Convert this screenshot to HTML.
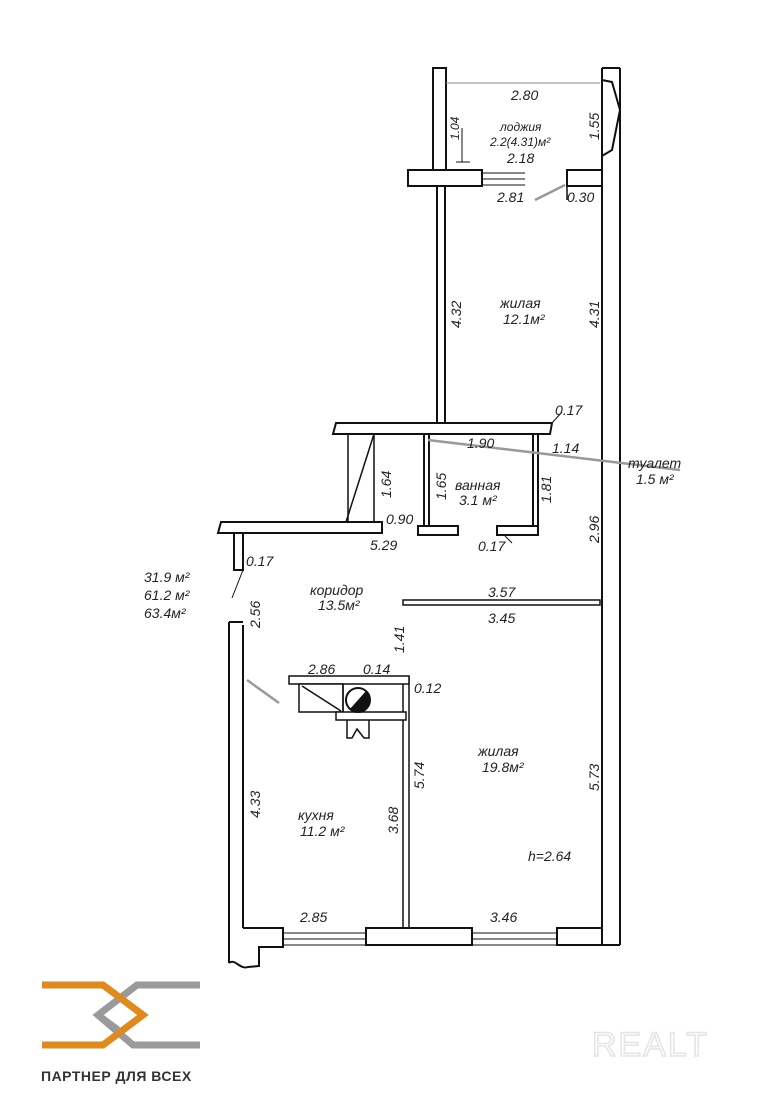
<!DOCTYPE html>
<html><head><meta charset="utf-8"><style>
html,body{margin:0;padding:0;background:#fff;}
svg{display:block;}
text{font-family:"Liberation Sans",sans-serif;font-style:italic;fill:#222;}
</style></head><body>
<svg width="781" height="1100" viewBox="0 0 781 1100" xmlns="http://www.w3.org/2000/svg">
<g fill="#fff" stroke="#111" stroke-width="2">
<rect x="433" y="68" width="13" height="102"/>
<line x1="437" y1="186" x2="437" y2="424"/><line x1="445" y1="186" x2="445" y2="424"/>
<line x1="602" y1="68" x2="602" y2="932"/>
<line x1="620" y1="68" x2="620" y2="945"/>
<line x1="602" y1="68" x2="620" y2="68"/>
<polyline fill="none" points="602,80 612,82 620,110 612,150 602,156"/>
<rect x="408" y="170" width="74" height="16"/>
<line x1="482" y1="173" x2="525" y2="173" stroke-width="1"/><line x1="482" y1="179" x2="525" y2="179" stroke-width="1"/><line x1="482" y1="185" x2="525" y2="185" stroke-width="1"/>
<rect x="567" y="170" width="35" height="16"/>
<line x1="567" y1="186" x2="567" y2="200" stroke-width="1.5"/>
<polygon points="336,423 552,423 550,434 333,434"/>
<line x1="424" y1="434" x2="424" y2="526"/><line x1="429" y1="434" x2="429" y2="526"/>
<line x1="533" y1="434" x2="533" y2="526"/><line x1="538" y1="434" x2="538" y2="526"/>
<rect x="418" y="526" width="40" height="9"/>
<rect x="497" y="526" width="41" height="9"/>
<polygon points="221,522 382,522 382,533 218,533"/>
<line x1="348" y1="434" x2="348" y2="522" stroke-width="1.5"/>
<line x1="374" y1="434" x2="374" y2="522" stroke-width="1.5"/>
<line x1="374" y1="434" x2="346" y2="522" stroke-width="1.5"/>
<rect x="234" y="533" width="9" height="37"/>
<rect x="403" y="600" width="197" height="5" stroke-width="1.5"/>
<line x1="229" y1="622" x2="229" y2="963"/>
<line x1="243" y1="625" x2="243" y2="928"/>
<line x1="229" y1="622" x2="243" y2="622"/>
<path d="M229,963 C235,958 240,970 248,967 L259,966 L259,947 L283,947 L283,928 L243,928" fill="none"/>
<rect x="366" y="928" width="106" height="17"/>
<rect x="557" y="928" width="45" height="17"/>
<line x1="283" y1="933" x2="366" y2="933" stroke-width="1"/><line x1="283" y1="939" x2="366" y2="939" stroke-width="1"/><line x1="283" y1="945" x2="366" y2="945" stroke-width="1"/>
<line x1="472" y1="933" x2="557" y2="933" stroke-width="1"/><line x1="472" y1="939" x2="557" y2="939" stroke-width="1"/><line x1="472" y1="945" x2="557" y2="945" stroke-width="1"/>
<line x1="602" y1="945" x2="620" y2="945"/>
<line x1="403" y1="676" x2="403" y2="928" stroke-width="1.5"/>
<line x1="409" y1="676" x2="409" y2="928" stroke-width="1.5"/>
<rect x="289" y="676" width="120" height="8" stroke-width="1.5"/>
<rect x="299" y="684" width="44" height="28" stroke-width="1.5"/>
<line x1="302" y1="686" x2="341" y2="711" stroke-width="1.5"/>
<rect x="336" y="712" width="70" height="8" stroke-width="1.5"/>
<line x1="343" y1="684" x2="343" y2="712" stroke-width="1.5"/>
<polyline fill="none" stroke-width="1.5" points="347,720 347,738 352,738 357,729 364,738 369,738 369,720"/>
</g>
<circle cx="358" cy="700" r="12" fill="#fff" stroke="#111" stroke-width="2"/>
<path d="M366,691 A12,12 0 0 1 350,709 Z" fill="#111"/>
<g stroke="#111" stroke-width="1" fill="none">
<line x1="446" y1="83" x2="600" y2="83" stroke="#888"/>
<line x1="462" y1="128" x2="462" y2="162"/>
<line x1="456" y1="162" x2="470" y2="162"/>
<line x1="552" y1="423" x2="562" y2="412"/>
<line x1="243" y1="570" x2="232" y2="598"/>
<line x1="505" y1="536" x2="512" y2="543"/>
</g>
<g stroke="#999" stroke-width="2.5" fill="none">
<line x1="535" y1="200" x2="565" y2="185"/>
<line x1="428" y1="440" x2="680" y2="470"/>
<line x1="247" y1="680" x2="279" y2="703"/>
</g>
<g font-size="14">
<text x="511" y="100">2.80</text>
<text x="500" y="131" font-size="12">лоджия</text>
<text x="490" y="146" font-size="12">2.2(4.31)м²</text>
<text x="507" y="163">2.18</text>
<text x="497" y="202">2.81</text>
<text x="567" y="202">0.30</text>
<text x="500" y="308">жилая</text>
<text x="503" y="324">12.1м²</text>
<text x="555" y="415">0.17</text>
<text x="467" y="448">1.90</text>
<text x="552" y="453">1.14</text>
<text x="628" y="468">туалет</text>
<text x="636" y="484">1.5 м²</text>
<text x="455" y="490">ванная</text>
<text x="459" y="505">3.1 м²</text>
<text x="386" y="524">0.90</text>
<text x="370" y="550">5.29</text>
<text x="478" y="551">0.17</text>
<text x="246" y="566">0.17</text>
<text x="310" y="595">коридор</text>
<text x="318" y="610">13.5м²</text>
<text x="144" y="582">31.9 м²</text>
<text x="144" y="600">61.2 м²</text>
<text x="144" y="618">63.4м²</text>
<text x="488" y="597">3.57</text>
<text x="488" y="623">3.45</text>
<text x="308" y="674">2.86</text>
<text x="363" y="674">0.14</text>
<text x="414" y="693">0.12</text>
<text x="478" y="756">жилая</text>
<text x="482" y="772">19.8м²</text>
<text x="298" y="820">кухня</text>
<text x="300" y="836">11.2 м²</text>
<text x="528" y="861">h=2.64</text>
<text x="300" y="922">2.85</text>
<text x="490" y="922">3.46</text>
</g>
<g font-size="14">
<text transform="translate(599,140) rotate(-90)">1.55</text>
<text transform="translate(459,140) rotate(-90)" font-size="12">1.04</text>
<text transform="translate(461,328) rotate(-90)">4.32</text>
<text transform="translate(599,328) rotate(-90)">4.31</text>
<text transform="translate(391,498) rotate(-90)">1.64</text>
<text transform="translate(446,500) rotate(-90)">1.65</text>
<text transform="translate(551,503) rotate(-90)">1.81</text>
<text transform="translate(599,543) rotate(-90)">2.96</text>
<text transform="translate(260,628) rotate(-90)">2.56</text>
<text transform="translate(404,653) rotate(-90)">1.41</text>
<text transform="translate(424,789) rotate(-90)">5.74</text>
<text transform="translate(398,834) rotate(-90)">3.68</text>
<text transform="translate(260,818) rotate(-90)">4.33</text>
<text transform="translate(599,791) rotate(-90)">5.73</text>
</g>
<g fill="none" stroke-width="7" stroke-linejoin="miter">
<polyline stroke="#9a9a9a" points="200,985 137,985 98,1015 133,1045 200,1045"/>
<polyline stroke="#e08a1e" points="42,985 103,985 143,1015 103,1045 42,1045"/>
<line stroke="#9a9a9a" x1="98" y1="1015" x2="118" y2="1030"/>
</g>
<text x="41" y="1081" font-size="14" font-weight="bold" style="font-style:normal;fill:#333;letter-spacing:0.5px">ПАРТНЕР ДЛЯ ВСЕХ</text>
<text x="592" y="1056" font-size="34" style="font-style:normal;fill:none;stroke:#e4e4e4;stroke-width:1.5;letter-spacing:2px">REALT</text>
</svg>
</body></html>
